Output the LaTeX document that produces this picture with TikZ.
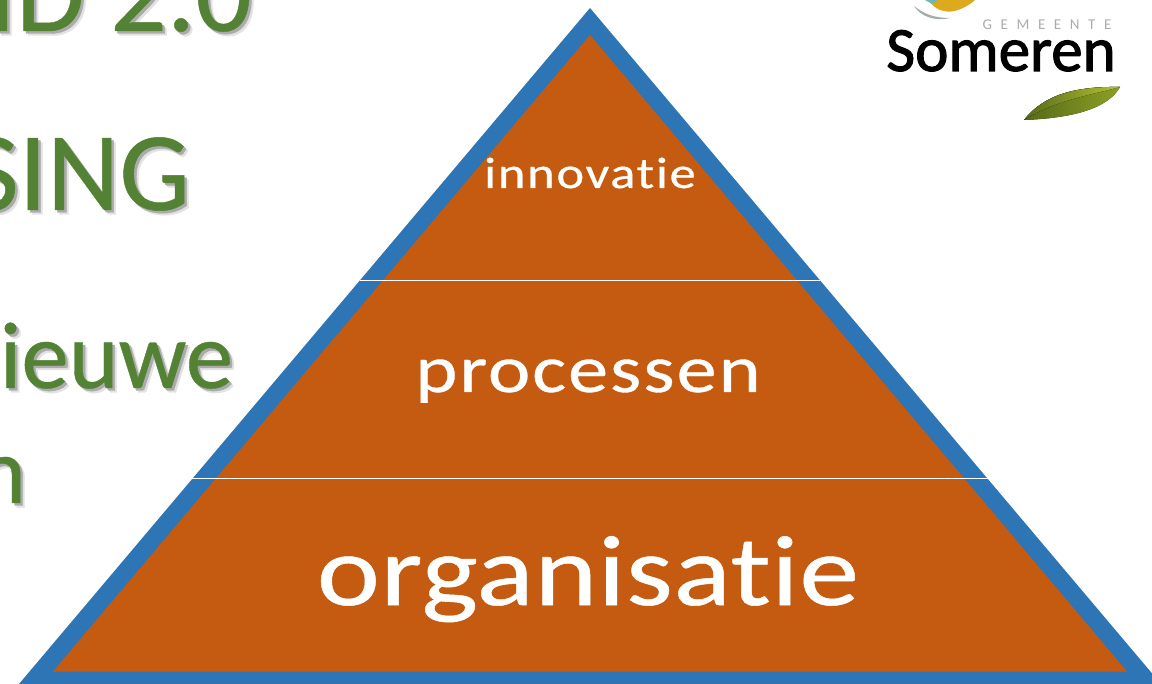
\documentclass[tikz,border=0pt]{standalone}
\usepackage{fontspec}
\setmainfont[Ligatures=NoCommon]{Carlito}
\newfontfamily\headfont[Ligatures=NoCommon,FakeBold=0.4]{Carlito}
\newfontfamily\labelfont[Ligatures=NoCommon,FakeBold=0.5,FakeStretch=1.2]{Carlito}
\newfontfamily\logofont[Ligatures=NoCommon,FakeBold=1.6]{Carlito}
\definecolor{blueedge}{HTML}{2E75B6}
\definecolor{orangefill}{HTML}{C55A11}
\definecolor{greentext}{HTML}{548235}
\definecolor{shadowgrey}{HTML}{ABABAB}
\definecolor{shadowsoft}{HTML}{E2E2E2}
\definecolor{gemgrey}{HTML}{A9ACAE}
\definecolor{leafgold}{HTML}{DDAA1E}
\definecolor{leafgrey}{HTML}{A6ABAD}
\definecolor{leafteal}{HTML}{6FB7B5}
\definecolor{leafdark}{HTML}{56691A}
\definecolor{leafmid}{HTML}{8CA024}
\definecolor{leaflight}{HTML}{B4C232}
\tikzset{
  headline/.style={anchor=base east,font=\headfont\fontsize{#1}{#1}\selectfont,inner sep=0pt,outer sep=0pt},
  pyrlabel/.style={anchor=base,font=\labelfont\fontsize{#1}{#1}\selectfont,text=white,inner sep=0pt,outer sep=0pt},
  divider/.style={draw=white,line width=1pt},
}
\newcommand{\headtext}[4]{%
  \node[headline=#1,text=shadowsoft] (u#4) at (#2+4.5,#3+4.5) {#4};
  \node[headline=#1,text=shadowgrey] (s#4) at (#2+2.5,#3+2.5) {#4};
  \node[headline=#1,text=greentext] (t#4) at (#2,#3) {#4};
}
\begin{document}
\begin{tikzpicture}[x=1pt,y=-1pt]
\useasboundingbox (0,0) rectangle (1152,684);
\begin{scope}
\clip (0,0) rectangle (1152,684);
\headtext{112}{252}{31}{ID 2.0}
\headtext{112}{190}{210}{SING}
\headtext{95}{233}{388}{ieuwe}
\headtext{95}{26}{503}{n}
\coordinate (apex) at (590,8);
\coordinate (bl) at (19,684);
\coordinate (br) at (1161,684);
\coordinate (ia) at (590,35);
\coordinate (ibl) at (53,671.5);
\coordinate (ibr) at (1127,671.5);
\fill[blueedge] (apex) -- (br) -- (bl) -- cycle;
\fill[orangefill] (ia) -- (ibr) -- (ibl) -- cycle;
\coordinate (d1l) at (360,280.5);
\coordinate (d1r) at (820,280.5);
\coordinate (d2l) at (191,478.5);
\coordinate (d2r) at (988,478.5);
\draw[divider] (d1l) -- (d1r);
\draw[divider] (d2l) -- (d2r);
\node[pyrlabel=44] (inn) at (590,188) {\addfontfeature{LetterSpace=3.6}innovatie};
\node[pyrlabel=67] (pro) at (588,392) {\addfontfeature{LetterSpace=2.8}processen};
\node[pyrlabel=100] (org) at (588,605) {\addfontfeature{LetterSpace=0.6}organisatie};
% logo
\node[anchor=base,font=\fontsize{15}{15}\selectfont,text=gemgrey,inner sep=0pt] (gem) at (1047,30) {G\hspace{8.6pt}E\hspace{8.6pt}M\hspace{8.6pt}E\hspace{8.6pt}E\hspace{8.6pt}N\hspace{8.6pt}T\hspace{8.6pt}E};
\node[anchor=base,font=\logofont\fontsize{63}{63}\selectfont,text=black,inner sep=0pt] (som) at (1001,71) {Someren};
% top leaf
\fill[leafgrey] (914,6) .. controls (924,14) and (934,18) .. (950,18) .. controls (935,22) and (920,16) .. (914,6) -- cycle;
\fill[leafgold] (929,0) .. controls (934,10) and (945,13) .. (955,11) .. controls (965,8) and (972,3) .. (975,0) -- cycle;
\fill[leafteal] (925,0) -- (938,0) -- (932,4) -- cycle;
% bottom leaf
\fill[left color=leafdark,right color=leafmid] (1024,120) .. controls (1040,100) and (1065,86) .. (1120,87) .. controls (1108,108) and (1075,118) .. (1024,120) -- cycle;
\fill[left color=leafdark,right color=leaflight] (1024,120) .. controls (1040,100) and (1065,86) .. (1120,87) .. controls (1095,94) and (1055,100) .. (1024,120) -- cycle;
\end{scope}
\end{tikzpicture}
\end{document}
